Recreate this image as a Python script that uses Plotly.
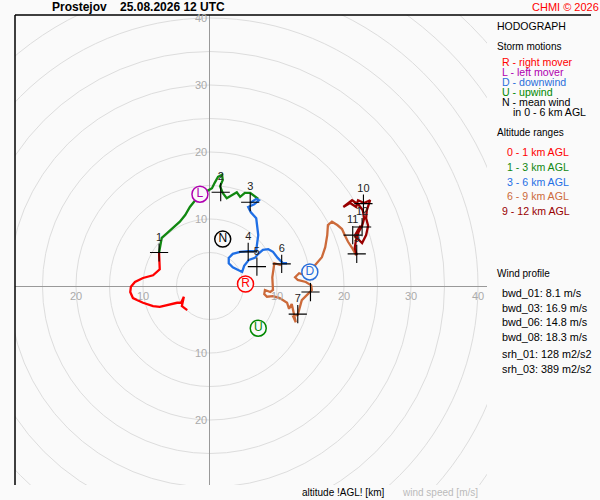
import plotly.graph_objects as go

# hodograph segments, wind components u/v in m/s
u_0_1 = [-3.4, -4.2, -3.9, -4.3, -4.9, -6.0, -7.5, -8.5, -10.0, -11.5, -11.9, -11.8,
         -11.2, -10.0, -8.5, -7.5, -7.5, -7.6]
v_0_1 = [-3.6, -3.0, -1.6, -2.5, -2.5, -2.8, -3.1, -3.0, -2.5, -1.8, -0.9, -0.1,
         0.6, 1.2, 1.6, 2.5, 3.4, 5.0]

u_1_3 = [-7.6, -7.2, -6.4, -5.5, -4.5, -3.7, -3.0, -2.2, -1.5, -0.4, 0.3, 0.7, 1.2, 1.8,
         1.9, 1.5, 1.9, 2.5, 3.4, 4.0, 4.5, 5.2, 6.0, 6.7, 7.2]
v_1_3 = [5.0, 7.2, 7.9, 8.7, 9.6, 10.6, 11.8, 12.8, 13.6, 14.2, 14.6, 15.4, 16.3, 16.6,
         15.8, 14.9, 13.9, 13.1, 13.6, 14.0, 13.3, 13.9, 13.9, 13.3, 13.0]

u_3_6 = [6.0, 6.9, 7.3, 6.6, 5.7, 6.1, 6.9, 7.0, 7.2, 7.0, 6.9, 5.7, 4.5, 3.4, 2.8, 2.8,
         3.4, 4.2, 4.8, 5.1, 5.8, 6.7, 7.2, 7.9, 8.7, 9.4, 10.1, 10.9, 11.5]
v_3_6 = [12.4, 13.0, 12.8, 12.2, 11.8, 11.0, 10.1, 9.1, 7.6, 6.1, 5.2, 5.2, 5.1, 4.8,
         4.2, 3.4, 2.8, 2.4, 2.1, 3.0, 3.9, 4.2, 4.8, 5.4, 5.5, 5.1, 4.2, 3.4, 3.4]

u_6_9 = [10.6, 9.6, 9.3, 9.4, 9.0, 8.2, 8.1, 8.5, 9.4, 10.4, 11.5, 11.8, 12.2, 12.5,
         12.8, 12.4, 13.1, 13.7, 14.5, 15.2, 15.1, 14.3, 13.1, 12.7, 13.3, 14.2, 14.9,
         15.7, 16.7, 17.2, 17.5, 17.6, 18.2, 19.0, 19.7, 20.1, 20.6, 21.2, 21.8]
v_6_9 = [3.1, 3.4, 1.3, -0.6, -0.9, -0.6, -1.2, -1.6, -1.5, -1.8, -2.5, -3.4, -2.7, -3.9,
         -5.4, -4.5, -4.3, -2.1, -1.3, -0.6, 0.1, 0.6, 0.9, 1.3, 1.9, 1.6, 2.2,
         3.1, 4.3, 5.8, 7.6, 9.1, 9.6, 9.1, 8.5, 7.6, 6.6, 5.7, 4.6]

u_9_12 = [21.9, 21.6, 21.8, 22.2, 22.7, 23.0, 22.8, 22.2, 21.2, 20.3, 19.9, 20.9, 21.8,
          22.1, 23.0, 23.9, 23.4, 23.3, 23.6, 23.3, 22.7, 22.2, 21.6, 22.1, 22.5]
v_9_12 = [4.6, 5.7, 6.9, 8.1, 9.0, 10.1, 11.3, 12.1, 12.8, 12.2, 11.8, 12.4, 11.8,
          12.8, 12.4, 12.8, 11.3, 10.1, 9.0, 7.6, 6.4, 6.9, 7.5, 8.4, 9.0]

# wind at each km AGL
km_labels = ["1", "2", "3", "4", "5", "6", "7", "8", "9", "10", "11", "12"]
km_u = [-7.6, 1.6, 6.0, 5.7, 7.0, 10.7, 13.1, 15.0, 21.9, 22.9, 21.3, 22.7]
km_v = [5.0, 14.0, 12.5, 5.1, 2.9, 3.3, -4.2, -0.9, 4.8, 12.3, 7.6, 8.8]

# storm motions
storm_labels = ["R", "L", "D", "U", "N"]
storm_u = [5.3, -1.5, 14.9, 7.2, 1.9]
storm_v = [0.3, 13.7, 2.1, -6.3, 7.0]
storm_colors = ["#ff0000", "#b000b0", "#2a6fdb", "#008800", "#000000"]

segments = [
    ("0 - 1 km AGL", u_0_1, v_0_1, "#ff0000"),
    ("1 - 3 km AGL", u_1_3, v_1_3, "#118811"),
    ("3 - 6 km AGL", u_3_6, v_3_6, "#1f6fe5"),
    ("6 - 9 km AGL", u_6_9, v_6_9, "#cc6a3a"),
    ("9 - 12 km AGL", u_9_12, v_9_12, "#990000"),
]

ring_radii = list(range(5, 65, 5))
vert_ticks = [10, 20, 30, 40, -10, -20]
horiz_ticks = [-20, -10, 10, 20, 30, 40]

profile_lines = ["bwd_01: 8.1 m/s", "bwd_03: 16.9 m/s", "bwd_06: 14.8 m/s",
                 "bwd_08: 18.3 m/s", "srh_01: 128 m2/s2", "srh_03: 389 m2/s2"]

FONT = "Liberation Sans, Arial, sans-serif"


def px(x):
    return (x - 15) / 472


def py(y):
    return (485 - y) / 470


fig = go.Figure()

for name, u, v, color in segments:
    fig.add_trace(go.Scatter(x=u, y=v, mode="lines", name=name,
                             line=dict(color=color, width=2.3)))

fig.add_trace(go.Scatter(
    x=km_u, y=km_v, mode="markers+text", text=km_labels,
    textposition="top center", textfont=dict(size=11, color="#222", family=FONT),
    marker=dict(symbol="cross-thin", size=13, line=dict(width=1.1, color="black")),
))

fig.add_trace(go.Scatter(
    x=storm_u, y=storm_v, mode="markers+text", text=storm_labels,
    textposition="middle center",
    textfont=dict(size=12, color=storm_colors, family=FONT),
    marker=dict(symbol="circle", size=16, color="#fafafa",
                line=dict(width=1.5, color=storm_colors)),
))

shapes = []
for r in ring_radii:
    shapes.append(dict(type="circle", xref="x", yref="y", x0=-r, y0=-r, x1=r, y1=r,
                       line=dict(color="#dddddd", width=1), layer="below"))
shapes.append(dict(type="line", xref="paper", yref="paper", x0=0, x1=0, y0=0, y1=1,
                   line=dict(color="black", width=1.5)))
shapes.append(dict(type="line", xref="paper", yref="paper", x0=0, x1=px(591), y0=1, y1=1,
                   line=dict(color="black", width=1.5)))

ann = []
for t in vert_ticks:
    ann.append(dict(x=0, y=t, xref="x", yref="y", text=str(abs(t)), showarrow=False,
                    xanchor="right", yanchor="middle", xshift=-1,
                    font=dict(size=11, color="#aaaaaa", family=FONT)))
for t in horiz_ticks:
    ann.append(dict(x=t, y=0, xref="x", yref="y", text=str(abs(t)), showarrow=False,
                    xanchor="center", yanchor="top", yshift=-2,
                    font=dict(size=11, color="#aaaaaa", family=FONT)))


def label(x, y, text, size=11, color="black", bold=False):
    if bold:
        text = "<b>" + text + "</b>"
    ann.append(dict(x=px(x), y=py(y), xref="paper", yref="paper", text=text,
                    showarrow=False, xanchor="left", yanchor="middle",
                    font=dict(size=size, color=color, family=FONT)))


label(50, 7, "Prostejov&nbsp;&nbsp;&nbsp;&nbsp;25.08.2026 12 UTC", size=12, bold=True)
label(530, 7, "CHMI © 2026", size=11, color="#ff0000")
label(495, 26, "HODOGRAPH", size=10.5)
label(495, 47, "Storm motions", size=10)
label(500, 62, "R - right mover", size=10.6, color=storm_colors[0])
label(500, 72, "L - left mover", size=10.6, color=storm_colors[1])
label(500, 82, "D - downwind", size=10.6, color=storm_colors[2])
label(500, 92, "U - upwind", size=10.6, color=storm_colors[3])
label(500, 102, "N - mean wind", size=10.6, color="black")
label(511, 112, "in 0 - 6 km AGL", size=10.6, color="black")
label(495, 132, "Altitude ranges", size=10)
for i, (name, _, _, color) in enumerate(segments):
    label(505 if i < 4 else 500, 152 + i * 14.8, name, size=10.6, color=color)
label(495, 273, "Wind profile", size=10)
for i, line in enumerate(profile_lines):
    y = 293 + i * 14.7 + (2 if i >= 4 else 0)
    label(500, y, line, size=10.8)
label(300, 492, "altitude !AGL! [km]", size=10)
label(400, 492, "wind speed [m/s]", size=10, color="#bbbbbb")

fig.update_layout(
    width=600, height=500,
    margin=dict(l=15, r=113, t=15, b=15),
    paper_bgcolor="#fafafa", plot_bgcolor="#fafafa",
    showlegend=False,
    shapes=shapes, annotations=ann,
    xaxis=dict(range=[-29.10, 41.34], showgrid=False, zeroline=True,
               zerolinecolor="#999999", zerolinewidth=1, showticklabels=False,
               ticks="", fixedrange=True),
    yaxis=dict(range=[-29.70, 40.45], showgrid=False, zeroline=True,
               zerolinecolor="#999999", zerolinewidth=1, showticklabels=False,
               ticks="", fixedrange=True),
)

# the page body has a default margin; drop it so the figure sits at the corner
fig.write_html("out.html", config={"displayModeBar": False},
               post_script="document.body.style.margin='0px';")
